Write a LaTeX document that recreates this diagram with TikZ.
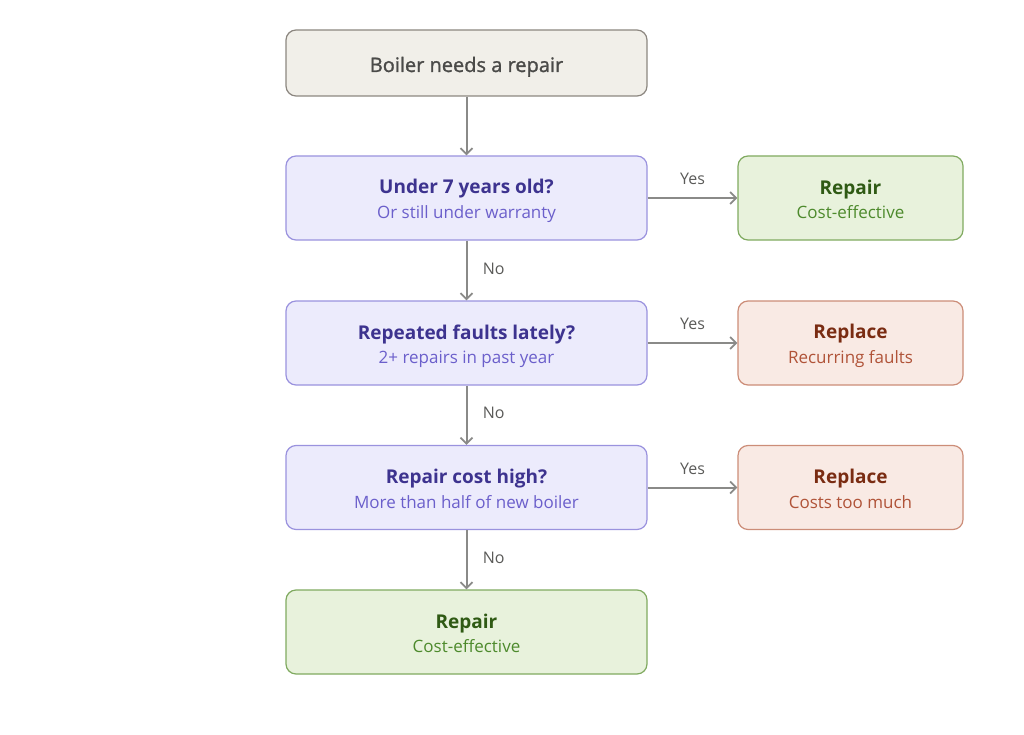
\documentclass[tikz,border=0pt]{standalone}
\usepackage{fontspec}
\setmainfont{Open Sans}
\newfontfamily\semib[FakeBold=1.3]{Open Sans}
\usetikzlibrary{arrows.meta}
\definecolor{stfill}{HTML}{F1EFE9}
\definecolor{stdraw}{HTML}{8C8780}
\definecolor{sttext}{HTML}{4A4A48}
\definecolor{qfill}{HTML}{ECEBFC}
\definecolor{qdraw}{HTML}{9A92DE}
\definecolor{qtitle}{HTML}{3D338F}
\definecolor{qsub}{HTML}{6B5FCB}
\definecolor{gfill}{HTML}{E8F2DC}
\definecolor{gdraw}{HTML}{80AA60}
\definecolor{gtitle}{HTML}{2F5A14}
\definecolor{gsub}{HTML}{4D8A2C}
\definecolor{rfill}{HTML}{F9EAE4}
\definecolor{rdraw}{HTML}{CC8D78}
\definecolor{rtitle}{HTML}{7A2C12}
\definecolor{rsub}{HTML}{B05338}
\definecolor{arr}{HTML}{8A8A88}
\definecolor{lbl}{HTML}{5A5A58}
\tikzset{
  box/.style={draw, rounded corners=10pt, line width=1.2pt, minimum height=84pt, align=center, inner sep=0pt},
  wide/.style={box, minimum width=361pt},
  narrow/.style={box, minimum width=225pt},
  startbox/.style={wide, fill=stfill, draw=stdraw, minimum height=66pt, text=sttext, font=\semib\fontsize{20}{24}\selectfont},
  qbox/.style={wide, fill=qfill, draw=qdraw},
  gbox/.style={fill=gfill, draw=gdraw},
  rbox/.style={fill=rfill, draw=rdraw},
  flow/.style={draw=arr, line width=2pt, -{Straight Barb[length=6pt,width=12pt,line width=1.8pt]}},
  elabel/.style={text=lbl, font=\fontsize{16}{19}\selectfont},
}
\newcommand{\boxtxt}[4]{\raisebox{-3pt}[\height][\depth]{\begin{tabular}{@{}c@{}}{\color{#1}\fontsize{19}{24}\selectfont\bfseries #2}\\[8pt]{\color{#3}\fontsize{17}{20}\selectfont #4}\end{tabular}}}
\begin{document}
\begin{tikzpicture}[x=1pt,y=-1pt]
\useasboundingbox (0,0) rectangle (1024,735);
\node[startbox] (start) at (466.5,63) {\raisebox{-9pt}[0pt][0pt]{Boiler needs a repair}};
\node[qbox] (q1) at (466.5,198) {\boxtxt{qtitle}{Under 7 years old?}{qsub}{Or still under warranty}};
\node[qbox] (q2) at (466.5,343) {\boxtxt{qtitle}{Repeated faults lately?}{qsub}{2+ repairs in past year}};
\node[qbox] (q3) at (466.5,487.5) {\boxtxt{qtitle}{Repair cost high?}{qsub}{More than half of new boiler}};
\node[wide,gbox] (fin) at (466.5,632) {\boxtxt{gtitle}{Repair}{gsub}{Cost-effective}};
\node[narrow,gbox] (r1) at (850.5,198) {\boxtxt{gtitle}{Repair}{gsub}{Cost-effective}};
\node[narrow,rbox] (r2) at (850.5,343) {\boxtxt{rtitle}{Replace}{rsub}{Recurring faults}};
\node[narrow,rbox] (r3) at (850.5,487.5) {\boxtxt{rtitle}{Replace}{rsub}{Costs too much}};
\draw[flow] (start) -- (q1);
\draw[flow] (q1) -- node[elabel, right=12pt, yshift=2pt] (n1) {No} (q2);
\draw[flow] (q2) -- node[elabel, right=12pt, yshift=2pt] (n2) {No} (q3);
\draw[flow] (q3) -- node[elabel, right=12pt, yshift=2pt] (n3) {No} (fin);
\draw[flow] (q1) -- node[elabel, above=9pt] (y1) {Yes} (r1);
\draw[flow] (q2) -- node[elabel, above=9pt] (y2) {Yes} (r2);
\draw[flow] (q3) -- node[elabel, above=9pt] (y3) {Yes} (r3);
\end{tikzpicture}
\end{document}
